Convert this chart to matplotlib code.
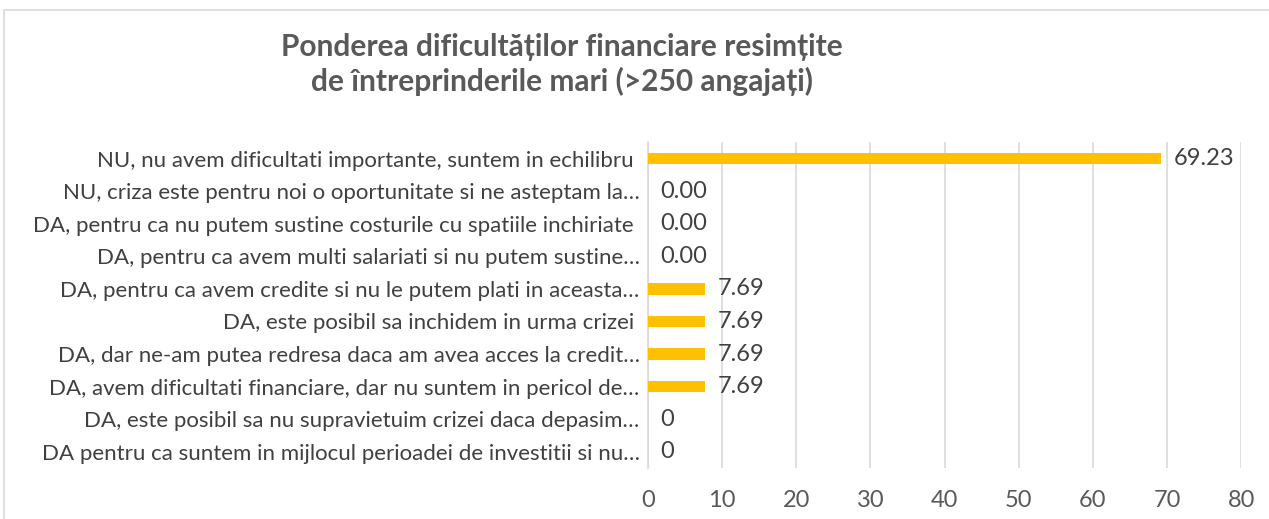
import matplotlib.pyplot as plt
from matplotlib.patches import Rectangle

# data
categories = [
    'NU, nu avem dificultati importante, suntem in echilibru ',
    'NU, criza este pentru noi o oportunitate si ne asteptam la…',
    'DA, pentru ca nu putem sustine costurile cu spatiile inchiriate ',
    'DA, pentru ca avem multi salariati si nu putem sustine…',
    'DA, pentru ca avem credite si nu le putem plati in aceasta…',
    'DA, este posibil sa inchidem in urma crizei ',
    'DA, dar ne-am putea redresa daca am avea acces la credit…',
    'DA, avem dificultati financiare, dar nu suntem in pericol de…',
    'DA, este posibil sa nu supravietuim crizei daca depasim…',
    'DA pentru ca suntem in mijlocul perioadei de investitii si nu…',
]
values = [69.23, 0, 0, 0, 7.69, 7.69, 7.69, 7.69, 0, 0]
value_labels = ['69.23', '0.00', '0.00', '0.00', '7.69', '7.69', '7.69', '7.69', '0', '0']
xticks = [0, 10, 20, 30, 40, 50, 60, 70, 80]

title = 'Ponderea dificultăților financiare resimțite\nde întreprinderile mari (>250 angajați)'

plt.rcParams['font.family'] = ['Lato', 'DejaVu Sans']
txt = '#404040'

fig = plt.figure(figsize=(12.69, 5.19), dpi=100)
ax = fig.add_axes([0.5106, 0.098, 0.4675, 0.628])

y = list(range(len(categories)))
ax.barh(y, values, height=0.35, color='#FFC000', zorder=3)
for yi, v, lab in zip(y, values, value_labels):
    ax.annotate(lab, (v, yi), xytext=(9, 0), textcoords='offset points',
                va='center', ha='left', fontsize=17, color=txt)

ax.set_ylim(len(categories) - 0.5, -0.5)
ax.set_xlim(0, 80)
ax.set_xticks(xticks)
ax.set_yticks(y)
ax.set_yticklabels(categories, fontsize=16, color=txt)
ax.tick_params(axis='x', labelsize=17, labelcolor='#595959', length=0, pad=16)
ax.tick_params(axis='y', length=0, pad=6)
ax.grid(axis='x', color='#d9d9d9', linewidth=1.2, zorder=0)
for s in ['top', 'right', 'bottom']:
    ax.spines[s].set_visible(False)
ax.spines['left'].set_color('#d9d9d9')
ax.spines['left'].set_linewidth(1.2)

fig.text(0.443, 0.875, title, ha='center', va='center', fontsize=21.5,
         fontweight='bold', color='#595959', linespacing=1.25)

# outer chart border
fig.patches.append(Rectangle((0.0035, -0.1), 1.1, 1.08, transform=fig.transFigure,
                             fill=False, edgecolor='#d9d9d9', linewidth=1.2))

fig.savefig('out.png', dpi=100)
